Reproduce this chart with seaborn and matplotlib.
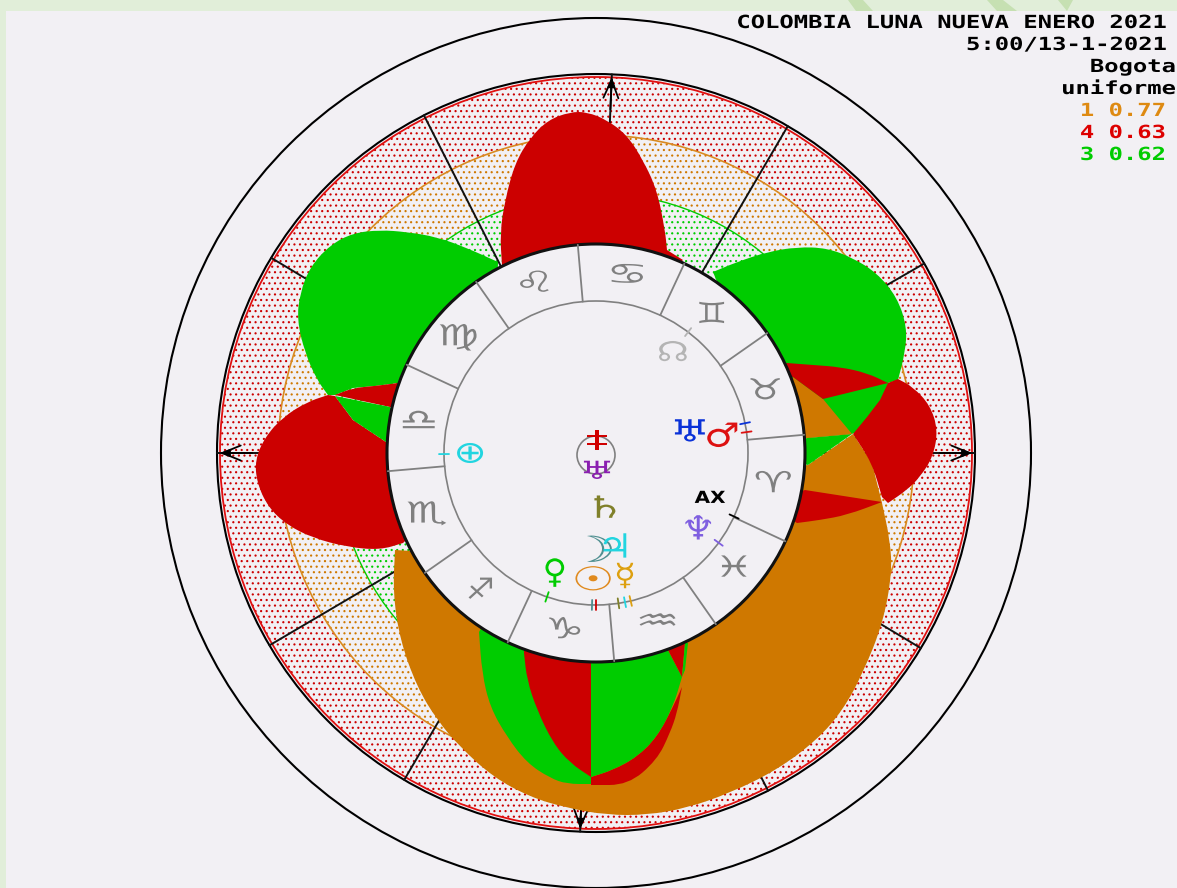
import numpy as np
import pandas as pd
import seaborn as sns
import matplotlib.pyplot as plt
import matplotlib.patheffects as pe
from matplotlib.patches import Circle, Wedge, Rectangle, PathPatch
from matplotlib.path import Path
from matplotlib.transforms import Affine2D

###############################################################################
# Data (angles in degrees, radii and outlines measured from the chart centre)
###############################################################################
TITLE_LINES = ['COLOMBIA LUNA NUEVA ENERO 2021', '5:00/13-1-2021', 'Bogota', 'uniforme']
SCORE_LINES = ['1 0.77', '4 0.63', '3 0.62']
SCORE_COLS = ['#de8a12', '#dd0000', '#00cc00']
# Rings -----------------------------------------------------------------------
R_OUT, R_BLK, R_RED, R_ORG, R_GRN, R_DSK, R_INN, R_CEN = (435, 379, 376, 318, 260, 209, 152, 19)
# Cusps -----------------------------------------------------------------------
HOUSES = [0, 30, 59.6, 87.6, 117, 149, 180, 210.5, 239.6, 267.6, 297, 329]
AXES_ARROWS = [0, 87.6, 180, 267.6]
SIGN_CUSPS = [5, 35, 65, 95, 125, 155, 185, 215, 245, 275, 305, 335]
SIGNS = ['♈', '♉', '♊', '♋', '♌', '♍', '♎', '♏', '♐', '♑', '♒', '♓']
SIGN_ANG = [350, 20, 50, 80, 110, 140, 170, 200, 230, 260, 290, 320]
SIGN_WID = [1.5, 1.4, 1.2, 1.6, 1.6, 1.6, 1.5, 1.6, 1.1, 1.5, 1.7, 1.5]
# Planets ---------------------------------------------------------------------
PL_GLYPH = ['♅', '♂', '♆', 'AX', '☊', '⊕', '‡', '♅', '♄', '☽', '♃', '♀', '☉', '☿']
PL_ANG = [12, 7.2, 323, 338.5, 52.4, 180.5, 85, 273, 279, 267.7, 281.3, 251.1, 268.7, 283.2]
PL_RAD = [96, 127, 128, 122.6, 126, 126, 12, 19, 57, 99, 97, 127, 128, 127]
PL_COL = [
    '#0a32d8', '#dd1111', '#7f5fe0', '#000000', '#b4b4b4', '#22d5e0', '#d00000',
    '#8a1fb0', '#80802a', '#4f8f90', '#22d5e0', '#00cc00', '#e08a1e', '#dda010'
]
PL_SIZE = [22, 24, 24, 12, 20, 22, 18, 18, 22, 26, 24, 24, 24, 22]
PL_WID = [1.5, 1.2, 1.2, 1.2, 1.3, 1.3, 1.8, 1.6, 1.5, 1.5, 1.2, 1.0, 1.45, 1.2]
TCK_ANG = [11.3, 7.9, 323.8, 335.3, 52.7, 180.4, 251.2, 268.5, 270, 278.5, 281, 283.2]
TCK_COL = [
    '#0a32d8', '#dd1111', '#7f5fe0', '#000000', '#b4b4b4', '#22d5e0',
    '#00cc00', '#4f8f90', '#d00000', '#80802a', '#22d5e0', '#dda010'
]
# Lobes -----------------------------------------------------------------------
ORANGE_X = [-201, -203, -196, -179, -159, -136, -103, -66, -29, 11, 51, 91, 134, 181, 221, 247, 267, 287, 296, 294, 286, 276, 257, 212, 150, 0, -150]
ORANGE_Y = [-97, -140, -187, -234, -267, -294, -324, -344, -355, -362, -362, -355, -340, -317, -287, -257, -220, -170, -120, -87, -50, -10, 19, -12, -20, -150, -100]
ORANGE2_X = [197, 227, 256, 211, 150]
ORANGE2_Y = [76, 54, 19, 15, 20]
TOP_RED_X = [-94, -96, -91, -81, -66, -48, -26, -9, 11, 31, 47, 61, 69, 71, 87, 0]
TOP_RED_Y = [188, 220, 253, 290, 315, 333, 341, 341, 333, 318, 293, 263, 223, 203, 193, 100]
UL_GREEN_X = [-268, -279, -291, -299, -296, -286, -266, -243, -216, -189, -159, -129, -98, -100, -198, -221, -243, -261]
UL_GREEN_Y = [58, 73, 100, 133, 160, 186, 208, 220, 223, 221, 216, 205, 191, 100, 70, 67, 65, 58]
SLIVER_L_X = [-261, -243, -221, -198, -190, -206]
SLIVER_L_Y = [58, 65, 67, 70, 40, 46]
TRI_L_X = [-261, -206, -190, -210, -243]
TRI_L_Y = [57, 46, 20, 11, 33]
L_RED_X = [-268, -289, -313, -331, -341, -339, -328, -309, -283, -249, -216, -193, -150, -190, -210, -243, -261]
L_RED_Y = [58, 51, 36, 16, -7, -30, -54, -72, -85, -94, -97, -90, -50, 11, 11, 33, 57]
UR_GREEN_X = [117, 141, 171, 201, 231, 257, 281, 301, 311, 309, 302, 292, 300, 256, 211, 150]
UR_GREEN_Y = [181, 191, 201, 206, 205, 195, 180, 156, 126, 100, 73, 70, 40, 19, 15, 100]
GREEN_R2_X = [211, 256, 212, 160]
GREEN_R2_Y = [15, 19, -12, 0]
SLIVER_U_X = [191, 217, 244, 271, 292, 227, 197, 160]
SLIVER_U_Y = [90, 88, 86, 80, 70, 54, 76, 80]
SLIVER_D_X = [209, 286, 251, 224, 201, 170]
SLIVER_D_Y = [-37, -49, -62, -67, -70, -50]
R_RED_X = [302, 317, 334, 342, 337, 324, 311, 292, 286, 276, 257, 271, 284, 292]
R_RED_Y = [74, 66, 48, 23, -4, -24, -37, -50, -44, -10, 19, 36, 53, 70]
B_GREEN_L_X = [-117, -114, -106, -89, -69, -46, -29, -5, -5, -100]
B_GREEN_L_Y = [-179, -220, -254, -284, -310, -325, -331, -331, -150, -150]
B_RED_X = [-72, -69, -59, -43, -26, -5, -5, -72]
B_RED_Y = [-200, -227, -257, -290, -310, -324, -150, -150]
B_GREEN_R_X = [-5, -5, 17, 41, 61, 77, 86, 72, 50]
B_GREEN_R_Y = [-150, -324, -317, -304, -284, -254, -224, -197, -150]
B_SLIVER_X = [-5, 17, 41, 61, 77, 86, 81, 74, 61, 32, -5]
B_SLIVER_Y = [-324, -317, -304, -284, -254, -234, -260, -280, -307, -332, -332]
B_RED2_X = [72, 86, 89]
B_RED2_Y = [-197, -224, -190]
B_GREEN2_X = [86, 89, 92, 89]
B_GREEN2_Y = [-224, -190, -190, -217]
# Page background stripes -----------------------------------------------------
STRIPES_X = [[252, 267, 277, 260], [391, 407, 421, 401], [462, 477, 471]]
STRIPES_Y = [[453, 453, 442, 442], [453, 453, 442, 442], [453, 453, 442]]
###############################################################################
# Colors and helpers
###############################################################################
(RED, GRN, ORG) = ('#cc0000', '#00cc00', '#cf7800')
(PANEL, PAGE, STRP) = ('#f2f0f4', '#e1eed9', '#c6e0b2')
SIGN_COL = '#808080'

class Stretch(pe.AbstractPathEffect):
    # Widens text about an anchor, the original is a wide bitmap font
    def __init__(self, anchor, factor):
        super().__init__()
        self.anchor = anchor
        self.factor = factor
    def draw_path(self, renderer, gc, tpath, affine, rgbFace=None):
        trans = Affine2D().translate(-self.anchor, 0).scale(self.factor, 1).translate(self.anchor, 0)
        renderer.draw_path(gc, tpath, affine + trans, rgbFace)

def polar(ang, rad):
    return (rad*np.cos(np.radians(ang)), rad*np.sin(np.radians(ang)))

def spokes(angs, r0, r1):
    rows = []
    for (i, a) in enumerate(angs):
        for r in (r0, r1):
            (x, y) = polar(a, r)
            rows.append({'id': i, 'x': x, 'y': y})
    return pd.DataFrame(rows)

def lobe(xs, ys, smooth=()):
    # Closed outline, quadratic curves on the smooth points, corners elsewhere
    pts = []
    for (i, p) in enumerate(zip(xs, ys)):
        pts.append(p)
        if i not in smooth:
            pts.append(p)
    pts = np.array(pts, dtype=float)
    mid = (pts+np.roll(pts, -1, axis=0))/2
    (verts, codes) = ([mid[-1]], [Path.MOVETO])
    for (c, m) in zip(pts, mid):
        verts += [c, m]
        codes += [Path.CURVE3, Path.CURVE3]
    return Path(verts, codes)

def label(txt, xRight, yBase, col):
    fig.text(
        xRight/W, 1-yBase/H, txt, ha='right', va='baseline', color=col,
        family='DejaVu Sans Mono', weight='bold', fontsize=13,
        path_effects=[Stretch(xRight, 1.32)]
    )

def glyph(x, y, txt, col, size, wid, weight='normal'):
    ax.text(
        x, y, txt, ha='center', va='center', color=col, fontsize=size,
        family='DejaVu Sans', weight=weight, zorder=8,
        path_effects=[Stretch(x+596, wid)]
    )
###############################################################################
# Figure
###############################################################################
sns.set_theme(style='white')
plt.rcParams['hatch.linewidth'] = 0.8
(W, H) = (1177, 888)
fig = plt.figure(figsize=(W/100, H/100), dpi=100, facecolor=PAGE)
ax = fig.add_axes([0, 0, 1, 1])
ax.set_xlim(-596, 581)
ax.set_ylim(-435, 453)
ax.set_facecolor(PAGE)
ax.axis('off')
ax.add_patch(Rectangle((-590, -435), 1171, 877, fc=PANEL, ec='none', zorder=0))
for (sx, sy) in zip(STRIPES_X, STRIPES_Y):
    ax.fill(sx, sy, color=STRP, lw=0, zorder=0)
# Dotted rings ----------------------------------------------------------------
for (r1, r0, col) in ((R_RED, R_ORG, RED), (R_ORG, R_GRN, ORG), (R_GRN, R_DSK, GRN)):
    ax.add_patch(Wedge((0, 0), r1, 0, 360, width=r1-r0, fc=PANEL, ec=col, hatch='...', lw=0, zorder=1))
for (r, col, lw) in (
    (R_OUT, 'black', 1.5), (R_BLK, 'black', 1.5), (R_RED, '#e01010', 1.3),
    (R_ORG, '#d98a20', 1.2), (R_GRN, GRN, 1.0)
):
    ax.add_patch(Circle((0, 0), r, fill=False, ec=col, lw=lw, zorder=2))
# House cusps and axes arrows -------------------------------------------------
sns.lineplot(
    data=spokes(HOUSES, R_DSK, R_BLK), x='x', y='y', units='id', estimator=None,
    sort=False, color='#111111', lw=1.4, ax=ax, legend=False, zorder=3
)
for a in AXES_ARROWS:
    ax.annotate(
        '', xy=polar(a, R_RED), xytext=polar(a, R_RED-32),
        arrowprops=dict(arrowstyle='->,head_length=1.1,head_width=.45', color='black', lw=1.3, shrinkA=0, shrinkB=0),
        zorder=3
    )
    ax.annotate(
        '', xy=polar(a, R_RED), xytext=polar(a, R_RED-10),
        arrowprops=dict(arrowstyle='-|>,head_length=.5,head_width=.2', color='black', lw=1, shrinkA=0, shrinkB=0),
        zorder=3
    )
# Lobes -----------------------------------------------------------------------
LOBES = [
    (ORANGE_X, ORANGE_Y, ORG, range(1, 20)), (ORANGE2_X, ORANGE2_Y, ORG, ()),
    (TOP_RED_X, TOP_RED_Y, RED, range(1, 13)), (UR_GREEN_X, UR_GREEN_Y, GRN, range(1, 10)),
    (GREEN_R2_X, GREEN_R2_Y, GRN, ()), (ORANGE2_X, ORANGE2_Y, ORG, ()),
    (SLIVER_U_X, SLIVER_U_Y, RED, (1, 2, 3)), (SLIVER_D_X, SLIVER_D_Y, RED, (2, 3)),
    (R_RED_X, R_RED_Y, RED, (1, 2, 3, 4, 5, 6, 9)), (L_RED_X, L_RED_Y, RED, range(1, 11)),
    (UL_GREEN_X, UL_GREEN_Y, GRN, range(1, 12)),
    (SLIVER_L_X, SLIVER_L_Y, RED, (1, 2)), (TRI_L_X, TRI_L_Y, GRN, ()),
    (B_SLIVER_X, B_SLIVER_Y, RED, (1, 2, 3, 4, 6, 7, 8, 9)),
    (B_GREEN_L_X, B_GREEN_L_Y, GRN, range(1, 7)), (B_RED_X, B_RED_Y, RED, range(1, 5)),
    (B_GREEN_R_X, B_GREEN_R_Y, GRN, range(2, 6)), (B_RED2_X, B_RED2_Y, RED, ()),
    (B_GREEN2_X, B_GREEN2_Y, GRN, ())
]
for (lx, ly, col, smooth) in LOBES:
    ax.add_patch(PathPatch(lobe(lx, ly, smooth), fc=col, ec='none', lw=0, zorder=4))
# Zodiac disc -----------------------------------------------------------------
ax.add_patch(Circle((0, 0), R_DSK, fc=PANEL, ec='#111111', lw=2.2, zorder=5))
ax.add_patch(Circle((0, 0), R_INN, fill=False, ec=SIGN_COL, lw=1.2, zorder=6))
ax.add_patch(Circle((0, -2), R_CEN, fill=False, ec=SIGN_COL, lw=1.2, zorder=6))
sns.lineplot(
    data=spokes(SIGN_CUSPS, R_INN, R_DSK), x='x', y='y', units='id', estimator=None,
    sort=False, color=SIGN_COL, lw=1.3, ax=ax, legend=False, zorder=6
)
for (s, a, wd) in zip(SIGNS, SIGN_ANG, SIGN_WID):
    (x, y) = polar(a, 180)
    glyph(x, y, s, SIGN_COL, 21, wd)
# Planets ---------------------------------------------------------------------
tck = spokes(TCK_ANG, R_INN-5, R_INN+5)
sns.lineplot(
    data=tck, x='x', y='y', hue='id', units='id', estimator=None, sort=False,
    palette=TCK_COL, lw=1.3, ax=ax, legend=False, zorder=7
)
for (g, a, r, c, s, wd) in zip(PL_GLYPH, PL_ANG, PL_RAD, PL_COL, PL_SIZE, PL_WID):
    (x, y) = polar(a, r)
    glyph(x, y, g, c, s, wd, 'bold' if g=='AX' else 'normal')
# Labels ----------------------------------------------------------------------
for (txt, xr, yb) in zip(TITLE_LINES, (1167, 1167, 1176, 1176), (28, 50, 72, 94)):
    label(txt, xr, yb, 'black')
for (txt, col, yb) in zip(SCORE_LINES, SCORE_COLS, (116, 138, 160)):
    label(txt, 1166, yb, col)
fig.savefig('out.png', dpi=100, facecolor=PAGE)
